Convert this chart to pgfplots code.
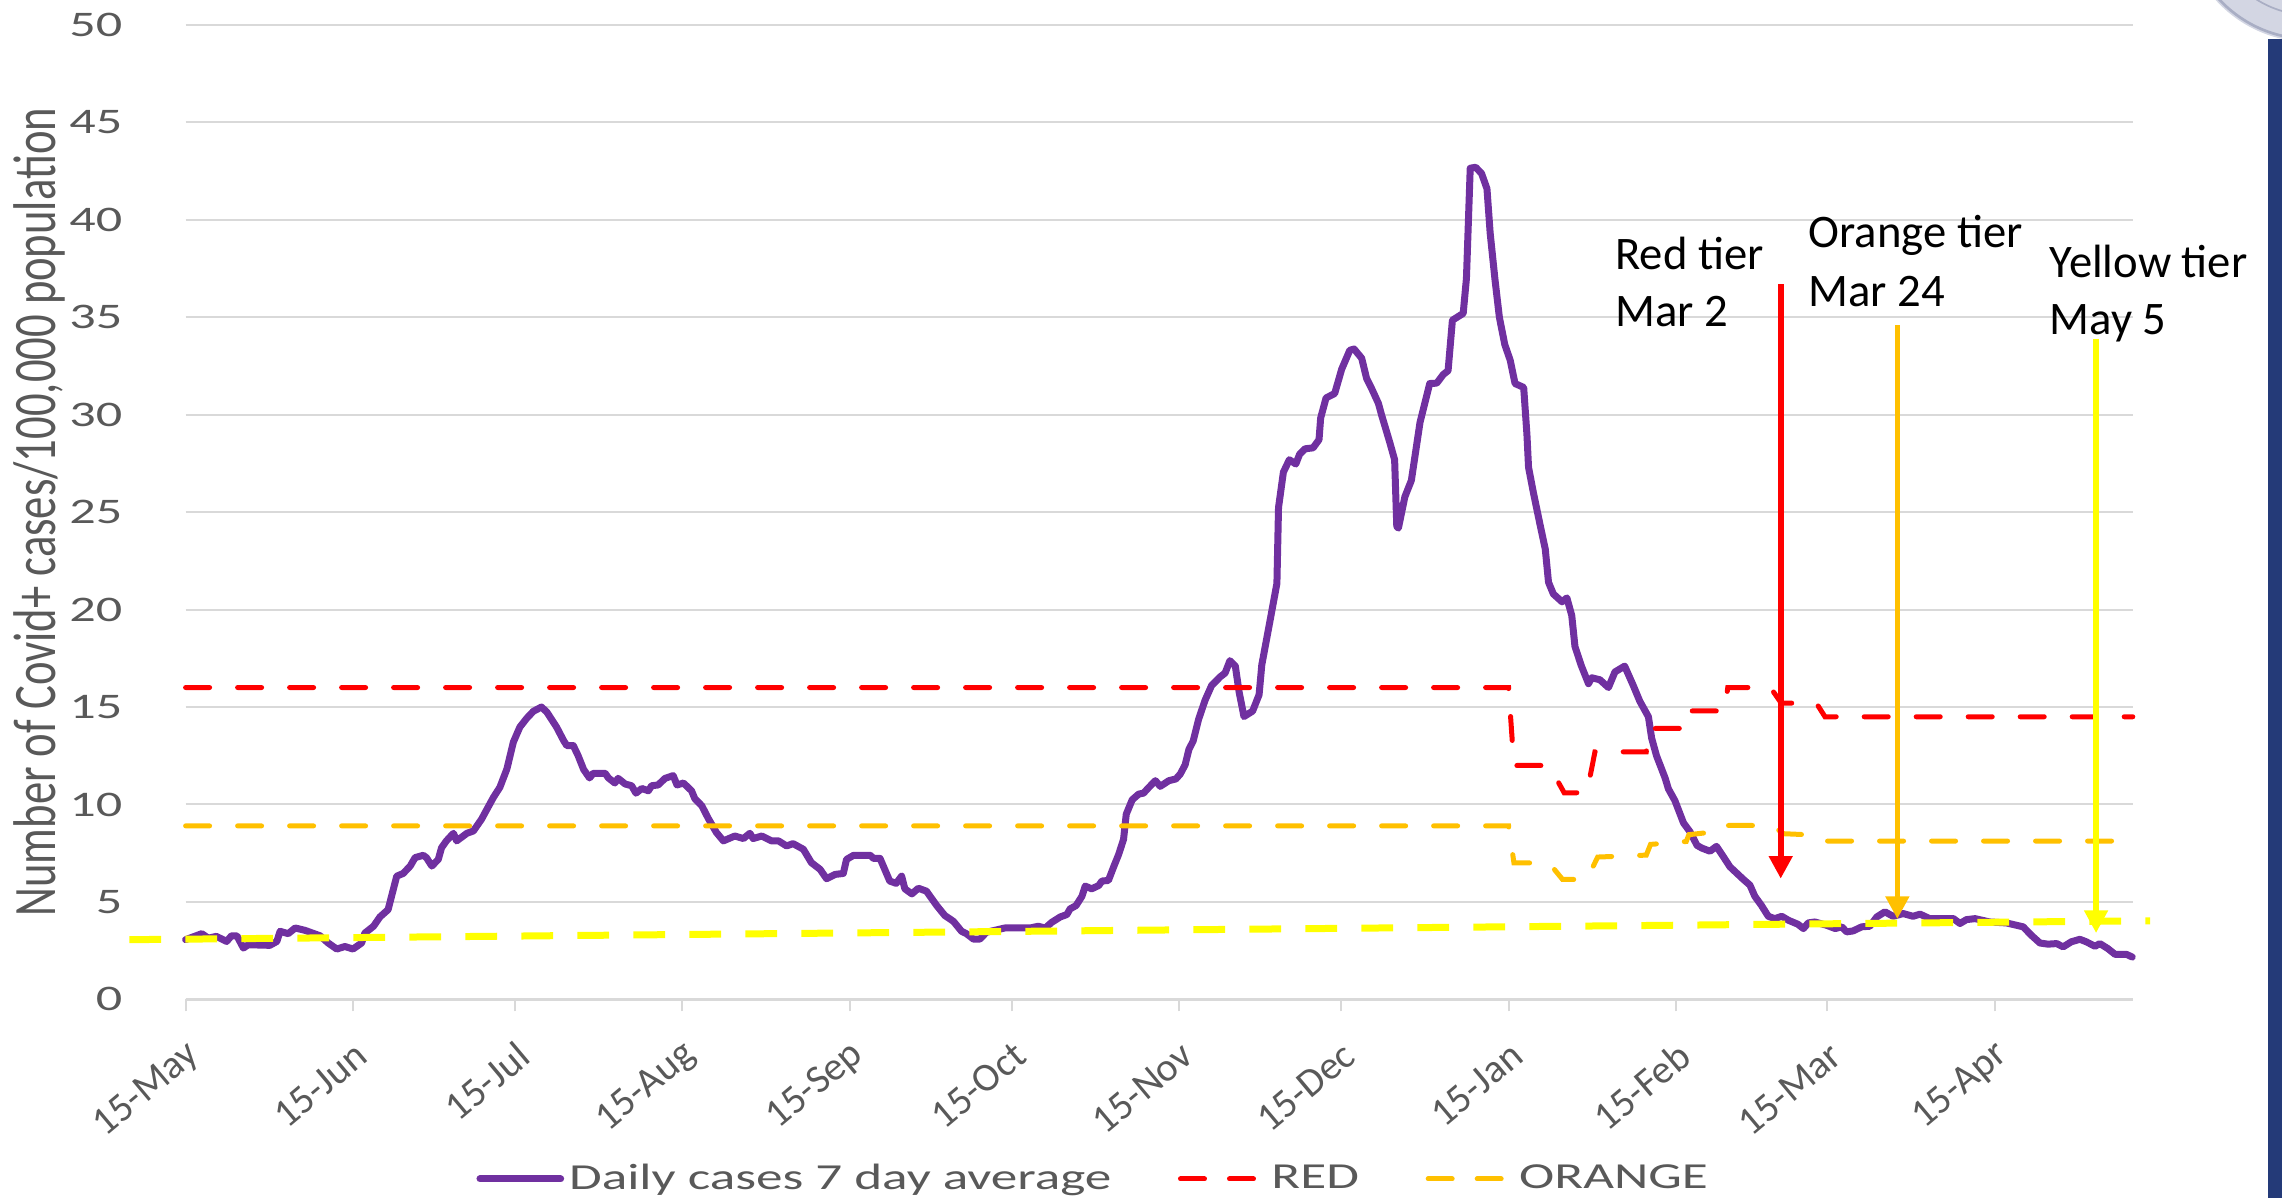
\documentclass[border=0pt]{standalone}
\usepackage{pgfplots}
\pgfplotsset{compat=1.18}
\usepackage{pgfplotstable}
\usepackage{graphicx}
\usepackage{fontspec}
\setmainfont{Carlito}
\usetikzlibrary{arrows.meta}

\definecolor{purp}{HTML}{7030A0}
\definecolor{redc}{HTML}{FF0000}
\definecolor{orc}{HTML}{FFC000}
\definecolor{yelc}{HTML}{FFFF00}
\definecolor{gridc}{HTML}{D9D9D9}
\definecolor{txtc}{HTML}{595959}
\definecolor{navy}{HTML}{243A78}
\definecolor{sealc}{HTML}{D3D6E3}
\definecolor{sealr}{HTML}{A9AEC4}

\newcommand\hs[1]{\scalebox{1.45}[1]{#1}}

\pgfplotstableread{
d v
0 3.06
3.0 3.37
4.2 3.14
5.7 3.23
7.6 2.97
8.5 3.26
9.5 3.26
10.7 2.63
11.6 2.8
15.6 2.77
16.9 2.97
17.5 3.49
19.0 3.37
20.3 3.66
22.1 3.54
24.9 3.26
26.4 2.89
28.0 2.58
29.5 2.71
31.0 2.58
32.6 2.89
33.2 3.40
34.8 3.75
36.0 4.23
37.5 4.60
39.1 6.32
40.3 6.46
41.6 6.84
42.5 7.27
44.0 7.39
44.6 7.27
45.6 6.84
46.8 7.18
47.4 7.78
48.3 8.13
49.6 8.52
50.2 8.13
52.1 8.52
53.3 8.64
54.8 9.24
57.0 10.36
58.2 10.88
59.5 11.82
60.7 13.2
61.9 13.97
63.2 14.43
64.4 14.78
65.9 15.0
66.9 14.74
68.7 13.97
70.0 13.28
70.6 13.02
71.8 13.02
72.7 12.5
73.7 11.8
74.8 11.36
75.5 11.6
77.7 11.6
78.3 11.36
79.5 11.1
80.1 11.34
81.4 11.05
82.6 10.96
83.4 10.58
84.5 10.82
85.7 10.7
86.3 10.96
87.5 11.0
88.8 11.34
90.3 11.48
91.0 11.0
92.2 11.1
93.7 10.7
94.3 10.3
95.6 9.93
96.8 9.28
98.3 8.56
99.6 8.13
101.7 8.38
103.3 8.25
104.5 8.52
105.1 8.25
106.7 8.38
108.5 8.13
109.8 8.13
111.3 7.87
112.5 7.99
114.4 7.7
115.9 7.01
117.5 6.67
118.7 6.19
120.3 6.41
121.8 6.46
122.4 7.18
123.7 7.39
126.8 7.39
127.4 7.23
128.6 7.23
130.4 6.07
131.6 5.95
132.6 6.32
133.2 5.67
134.5 5.41
135.7 5.70
137.2 5.55
139.1 4.81
140.6 4.30
142.2 4.00
143.7 3.49
144.6 3.37
145.9 3.09
147.1 3.09
148.3 3.44
151.7 3.66
156.4 3.66
157.9 3.75
159.2 3.66
160.4 3.95
162.0 4.23
163.2 4.35
163.8 4.64
164.9 4.81
166.0 5.29
166.6 5.81
167.8 5.67
169.1 5.84
169.7 6.07
170.9 6.10
171.8 6.75
172.8 7.44
173.7 8.21
174.2 9.50
175.3 10.24
176.5 10.53
177.4 10.58
178.4 10.88
179.6 11.22
180.5 10.93
182.1 11.22
183.4 11.31
184.2 11.56
185.1 12.03
185.8 12.82
186.6 13.26
187.6 14.37
188.8 15.35
190.0 16.1
191.6 16.55
192.5 16.74
193.4 17.38
194.4 17.1
195.1 15.77
196.0 14.51
197.6 14.79
198.8 15.63
199.3 17.16
200.8 19.39
202.1 21.34
202.4 25.24
203.3 27.05
204.4 27.69
205.6 27.47
206.3 27.97
207.3 28.25
208.8 28.3
209.9 28.72
210.2 29.83
211.2 30.86
212.8 31.09
214.1 32.34
215.6 33.31
216.4 33.37
217.8 32.9
218.7 31.87
219.6 31.37
220.9 30.58
221.5 29.97
222.4 29.14
223.0 28.58
223.9 27.69
224.3 24.26
224.6 24.18
225.8 25.79
227.0 26.63
228.6 29.6
230.4 31.6
231.7 31.62
232.9 32.06
233.8 32.26
234.6 34.85
236.6 35.2
237.2 37.0
237.9 42.65
238.9 42.7
240.0 42.38
241.0 41.6
241.6 39.3
242.5 36.9
243.3 35.0
244.3 33.6
245.3 32.8
246.2 31.6
247.8 31.4
248.4 29.0
248.7 27.3
249.6 26.0
250.8 24.4
251.8 23.1
252.4 21.4
253.3 20.8
254.9 20.4
255.8 20.6
256.7 19.7
257.3 18.1
258.5 17.1
259.8 16.2
260.4 16.5
261.9 16.4
263.5 16.0
264.7 16.8
266.5 17.1
268.1 16.1
269.3 15.3
270.9 14.5
271.5 13.4
272.4 12.5
274.0 11.35
274.6 10.8
275.8 10.2
277.4 9.05
278.6 8.6
279.9 7.9
280.8 7.76
282.3 7.6
283.5 7.85
284.4 7.48
286.0 6.8
288.5 6.15
289.7 5.86
290.6 5.29
291.8 4.83
293.1 4.26
294.3 4.14
295.6 4.26
296.8 4.06
298.6 3.85
299.6 3.63
300.5 3.92
301.7 3.97
303.9 3.8
305.5 3.63
306.7 3.72
307.6 3.46
308.8 3.51
310.4 3.72
311.9 3.75
313.2 4.23
314.7 4.49
316.2 4.26
318.1 4.4
319.9 4.26
321.2 4.37
323.0 4.14
324.9 4.14
327.4 4.14
328.6 3.89
329.8 4.09
331.4 4.14
334.1 3.97
337.2 3.92
340.3 3.72
341.8 3.29
343.4 2.89
344.9 2.83
346.5 2.86
347.7 2.69
349.2 2.95
350.8 3.08
352.0 2.95
353.6 2.72
354.5 2.86
356.0 2.6
357.3 2.31
359.4 2.31
360.5 2.17
}\dailytbl

\pgfplotstableread{
d v
0 16
245 16
246 12
252.5 12
255.3 10.6
259.5 10.6
261 12.7
270.5 12.7
271.2 13.9
277.9 13.9
278.4 14.8
285 14.8
285.6 16
293.5 16
295.5 15.2
302 15.2
303.6 14.5
360.6 14.5
}\redtbl

\pgfplotstableread{
d v
0 8.9
245 8.9
246 7.0
252.5 7.0
255 6.15
259.5 6.15
261.5 7.3
270.5 7.4
271.3 7.95
277.9 8.1
278.4 8.45
285 8.65
285.6 8.92
294 8.92
295.8 8.5
302.5 8.42
304 8.12
360.6 8.12
}\orangetbl

\begin{document}
\begin{tikzpicture}
\useasboundingbox (-55.68pt,-59.61pt) rectangle (628.92pt,299.79pt);
\fill[sealc] (637.3pt,325.3pt) circle (38.1pt);
\draw[sealr, line width=0.8pt] (637.3pt,325.3pt) circle (37.2pt);
\draw[sealr, line width=0.5pt] (637.3pt,325.3pt) circle (30pt);
\fill[navy] (624.72pt,-59.61pt) rectangle (628.92pt,288.1pt);
\begin{axis}[
  at={(0pt,0pt)}, anchor=south west,
  width=584.31pt, height=292.29pt, scale only axis,
  xmin=0, xmax=360.7, ymin=0, ymax=50,
  clip=false,
  axis lines*=left,
  x axis line style={-, draw=gridc, line width=0.75pt},
  y axis line style={draw=none},
  ymajorgrids, grid style={draw=gridc, line width=0.6pt},
  xtick={0,31,61,92,123,153,184,214,245,276,304,335},
  xticklabels={15-May,15-Jun,15-Jul,15-Aug,15-Sep,15-Oct,15-Nov,15-Dec,15-Jan,15-Feb,15-Mar,15-Apr},
  ytick={0,5,...,50},
  yticklabels={\hs{0},\hs{5},\hs{10},\hs{15},\hs{20},\hs{25},\hs{30},\hs{35},\hs{40},\hs{45},\hs{50}},
  tick align=outside, major tick length=3.6pt,
  xtick style={draw=gridc, line width=0.6pt},
  ytick style={draw=none},
  yticklabel style={anchor=east, inner sep=0pt, xshift=-15.2pt, font=\fontsize{10.8}{13}\selectfont, text=txtc},
  xticklabel style={rotate=40, anchor=east, inner sep=0pt, xshift=-5.4pt, yshift=-10.6pt, font=\fontsize{12}{14}\selectfont, text=txtc},
  ylabel={\scalebox{1}[1.35]{Number of Covid+ cases/100,000 population}},
  ylabel style={at={(axis description cs:-0.0753,0.5)}, anchor=center, font=\fontsize{13.4}{16}\selectfont, text=txtc},
  legend columns=-1,
  legend style={at={(0.149,-0.1844)}, anchor=west, draw=none, fill=none, inner sep=0pt,
    font=\fontsize{11}{13}\selectfont, text=txtc,
    nodes={inner sep=1.5pt},
    /tikz/every even column/.append style={column sep=18.5pt}},
  legend cell align=left,
]
\addplot[purp, line width=2.1pt, line join=round, line cap=round,
  legend image code/.code={\draw[purp, line width=2.1pt, line cap=round] (0.8pt,0pt) -- (25pt,0pt);}]
  table[x=d, y=v] {\dailytbl};
\addlegendentry{\hs{Daily cases 7 day average}}
\addplot[redc, line width=1.5pt, line cap=round, dash pattern=on 7.2pt off 8.4pt,
  legend image code/.code={\draw[redc, line width=1.5pt, line cap=round] (0.75pt,0pt) -- (8.55pt,0pt) (15.45pt,0pt) -- (23.25pt,0pt); \path (25.8pt,0pt);}]
  table[x=d, y=v] {\redtbl};
\addlegendentry{\hs{RED}}
\addplot[orc, line width=1.5pt, line cap=round, dash pattern=on 7.2pt off 8.4pt,
  legend image code/.code={\draw[orc, line width=1.5pt, line cap=round] (0.75pt,0pt) -- (8.55pt,0pt) (15.45pt,0pt) -- (23.25pt,0pt); \path (25.8pt,0pt);}]
  table[x=d, y=v] {\orangetbl};
\addlegendentry{\hs{ORANGE}}
\addplot[yelc, line width=2.1pt, dash pattern=on 9.5pt off 7.3pt, forget plot]
  coordinates {(-10.4,3.06) (363.8,4.03)};
\addplot[redc, line width=1.7pt, -{Triangle[width=6.8pt,length=6.8pt]}, forget plot]
  coordinates {(295.4,36.7) (295.4,6.19)};
\addplot[orc, line width=1.7pt, -{Triangle[width=6.8pt,length=6.8pt]}, forget plot]
  coordinates {(317,34.6) (317,4.12)};
\addplot[yelc, line width=1.7pt, -{Triangle[width=6.8pt,length=6.8pt]}, forget plot]
  coordinates {(353.8,33.9) (353.8,3.4)};
\end{axis}
\begin{scope}[every node/.style={anchor=base west, inner sep=0pt, font=\fontsize{14}{17}\selectfont, text=black}]
\node at (428.7pt,218.8pt) {Red tier};
\node at (428.7pt,201.8pt) {Mar 2};
\node at (486.7pt,225.4pt) {Orange tier};
\node at (486.7pt,207.8pt) {Mar 24};
\node at (559.0pt,216.6pt) {Yellow tier};
\node at (559.0pt,199.3pt) {May 5};
\end{scope}
\end{tikzpicture}
\end{document}
